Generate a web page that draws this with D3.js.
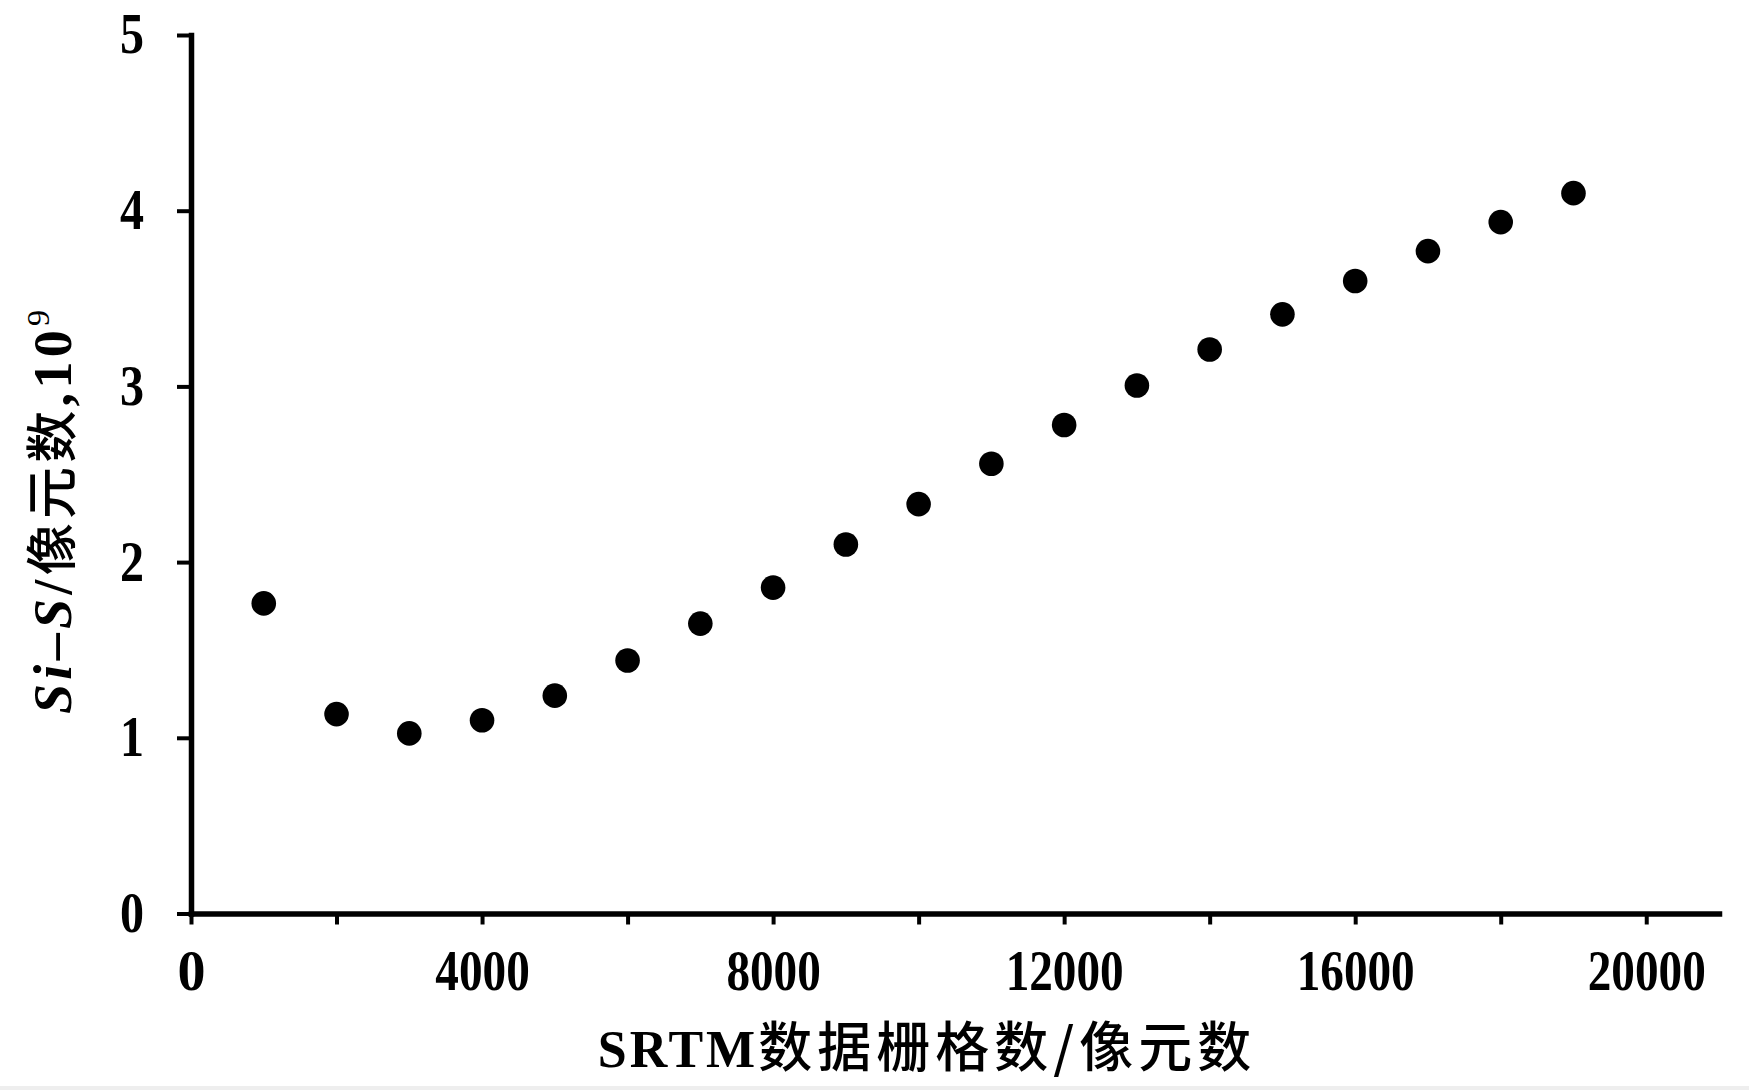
<!DOCTYPE html>
<html>
<head>
<meta charset="utf-8">
<script src="https://cdn.jsdelivr.net/npm/d3@7"></script>
<style>
  body { margin: 0; background: #fff; }
</style>
</head>
<body>
<div id="chart"></div>
<script>
// Si-S against number of SRTM raster cells
var cells = [1000, 2000, 3000, 4000, 5000, 6000, 7000, 8000, 9000, 10000,
             11000, 12000, 13000, 14000, 15000, 16000, 17000, 18000, 19000]
var siS = [1.765, 1.135, 1.025, 1.10, 1.24, 1.44, 1.65, 1.855, 2.10, 2.33,
           2.56, 2.78, 3.005, 3.21, 3.41, 3.60, 3.77, 3.935, 4.10]
var xTicks = [0, 2000, 4000, 6000, 8000, 10000, 12000, 14000, 16000, 18000, 20000]
var yTicks = [0, 1, 2, 3, 4, 5]

var width = 1749
var height = 1090
var margin = ({ top: 35, right: 30, bottom: 176, left: 191 })

var svg = d3.select("#chart")
    .append("svg")
    .attr("width", width)
    .attr("height", height)

svg.append("rect").attr("width", width).attr("height", height).attr("fill", "#fff")
// faint grey strip at the very bottom of the scan
svg.append("rect").attr("y", 1086).attr("width", width).attr("height", 4).attr("fill", "#eeeeee")

var x = d3.scaleLinear()
    .domain([0, 21000])
    .range([margin.left, 1719])

var y = d3.scaleLinear()
    .domain([0, 5])
    .range([913.5, margin.top])

var serif = "'Liberation Serif', 'Times New Roman', serif"
var cjk = "'Noto Sans CJK SC', sans-serif"

var xAxis = g => g
    .attr("transform", `translate(0,${y(0)})`)
    .call(d3.axisBottom(x)
        .tickValues(xTicks)
        .tickSize(11)
        .tickSizeOuter(0)
        .tickPadding(26)
        .tickFormat(d => d % 4000 === 0 ? d : ""))

var yAxis = g => g
    .attr("transform", `translate(${x(0)},0)`)
    .call(d3.axisLeft(y)
        .tickValues(yTicks)
        .tickSize(14)
        .tickSizeOuter(0)
        .tickPadding(33)
        .tickFormat(d3.format("d")))

function styleAxis(g) {
    g.select(".domain").attr("stroke", "#000").attr("stroke-width", 5.5).attr("stroke-linecap", "square")
    g.selectAll(".tick line").attr("stroke", "#000").attr("stroke-width", 4)
    g.selectAll(".tick text")
        .attr("fill", "#000")
        .attr("font-family", serif)
        .attr("font-weight", "bold")
        .attr("font-size", 56)
}

var gx = svg.append("g").call(xAxis).call(styleAxis)
// the scanned digits are narrow, squeeze them a little
gx.selectAll(".tick text")
    .filter(function () { return this.textContent.length > 1 })
    .attr("textLength", function () { return this.textContent.length * 23.6 })
    .attr("lengthAdjust", "spacingAndGlyphs")

var gy = svg.append("g").call(yAxis).call(styleAxis)
gy.selectAll(".tick text")
    .attr("textLength", 24)
    .attr("lengthAdjust", "spacingAndGlyphs")

// points
svg.append("g")
    .selectAll("circle")
    .data(cells)
    .join("circle")
    .attr("cx", d => x(d))
    .attr("cy", (d, i) => y(siS[i]))
    .attr("r", 12.3)
    .attr("fill", "#000")

// x axis title
var xt = svg.append("text")
    .attr("x", 927)
    .attr("y", 1067)
    .attr("text-anchor", "middle")
    .attr("fill", "#000")
xt.append("tspan").attr("font-family", serif).attr("font-weight", "bold").attr("font-size", 52)
    .attr("letter-spacing", 3).text("SRTM")
xt.append("tspan").attr("font-family", cjk).attr("font-weight", 500).attr("font-size", 54)
    .attr("letter-spacing", 5).text("数据栅格数/像元数")

// y axis title
var yt = svg.append("text")
    .attr("transform", "translate(71,512) rotate(-90)")
    .attr("text-anchor", "middle")
    .attr("fill", "#000")
    .attr("textLength", 404)
    .attr("lengthAdjust", "spacing")
yt.append("tspan").attr("font-family", serif).attr("font-weight", "bold").attr("font-style", "italic").attr("font-size", 54).text("Si")
yt.append("tspan").attr("font-family", serif).attr("font-weight", "bold").attr("font-size", 54).text("–")
yt.append("tspan").attr("font-family", serif).attr("font-weight", "bold").attr("font-style", "italic").attr("font-size", 54).text("S")
yt.append("tspan").attr("font-family", serif).attr("font-weight", "bold").attr("font-size", 54).text("/")
yt.append("tspan").attr("font-family", cjk).attr("font-weight", 500).attr("font-size", 52).text("像元数")
yt.append("tspan").attr("font-family", serif).attr("font-weight", "bold").attr("font-size", 54).text(",10")
yt.append("tspan").attr("font-family", serif).attr("font-size", 32).attr("dy", -22).text("9")
</script>
</body>
</html>
